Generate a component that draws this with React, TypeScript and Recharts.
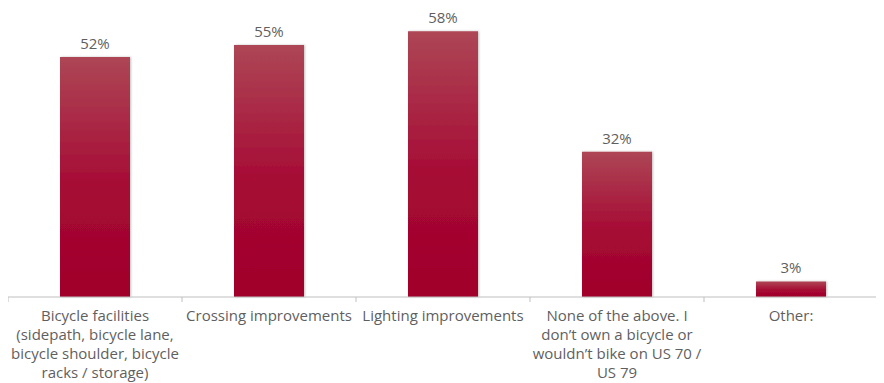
import React from "react"
import { BarChart, Bar, XAxis, YAxis, LabelList } from "recharts"

const categories = [
  "Bicycle facilities (sidepath, bicycle lane, bicycle shoulder, bicycle racks / storage)",
  "Crossing improvements",
  "Lighting improvements",
  "None of the above. I don't own a bicycle or wouldn't bike on US 70 / US 79",
  "Other:",
]

const tickLines = [
  ["Bicycle facilities", "(sidepath, bicycle lane,", "bicycle shoulder, bicycle", "racks / storage)"],
  ["Crossing improvements"],
  ["Lighting improvements"],
  ["None of the above. I", "don\u2019t own a bicycle or", "wouldn\u2019t bike on US 70 /", "US 79"],
  ["Other:"],
]

const shares = [52.4, 55, 58, 31.7, 3.4]

const data = categories.map((name, i) => ({ name, value: shares[i], lines: tickLines[i] }))

const FONT = "'Open Sans', sans-serif"
const TEXT = "#5f5f5f"
const AXIS = "#bfbfbf"

const CategoryTick = (props: any) => {
  const { x, y, payload, index, width, visibleTicksCount } = props
  const band = width / visibleTicksCount
  const lines = tickLines[index] || [payload.value]
  return (
    <g>
      <line x1={x - band / 2} y1={y - 8} x2={x - band / 2} y2={y - 3} stroke={AXIS} />
      {index === visibleTicksCount - 1 && (
        <line x1={x + band / 2} y1={y - 8} x2={x + band / 2} y2={y - 3} stroke={AXIS} />
      )}
      <text x={x} y={y} textAnchor="middle" fill={TEXT} fontSize={15} fontFamily={FONT}>
        {lines.map((l: string, i: number) => (
          <tspan key={i} x={x} dy={i === 0 ? 16 : 19}>
            {l}
          </tspan>
        ))}
      </text>
    </g>
  )
}

export default function App() {
  return (
    <BarChart
      width={870}
      height={375}
      data={data}
      margin={{ top: 5, right: 0, left: 0, bottom: 0 }}
      barCategoryGap={52}
    >
      <defs>
        <linearGradient id="barFill" x1="0" y1="0" x2="0" y2="1">
          <stop offset="0%" stopColor="#ad4656" />
          <stop offset="55%" stopColor="#a60a34" />
          <stop offset="100%" stopColor="#a0002a" />
        </linearGradient>
        <filter id="barShadow" x="-10%" y="-10%" width="130%" height="120%">
          <feDropShadow dx="1" dy="0" stdDeviation="1" floodColor="#000" floodOpacity="0.25" />
        </filter>
      </defs>
      <XAxis
        dataKey="name"
        axisLine={{ stroke: AXIS }}
        tickLine={false}
        interval={0}
        height={86}
        tick={<CategoryTick />}
      />
      <YAxis hide domain={[0, 62]} />
      <Bar
        dataKey="value"
        fill="url(#barFill)"
        barSize={70}
        isAnimationActive={false}
        style={{ filter: "url(#barShadow)" }}
      >
        <LabelList
          dataKey="value"
          position="top"
          offset={8}
          formatter={(v: any) => `${Math.round(Number(v))}%`}
          fill={TEXT}
          fontSize={15}
          fontFamily={FONT}
        />
      </Bar>
    </BarChart>
  )
}
